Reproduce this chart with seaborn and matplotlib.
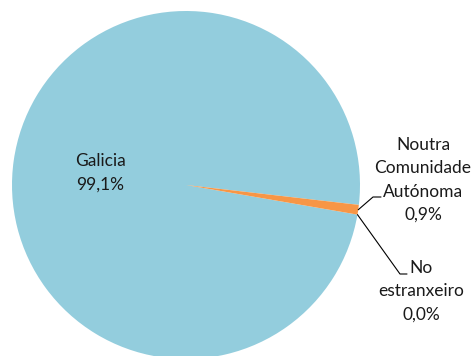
import numpy as np
import matplotlib
matplotlib.use("Agg")
import matplotlib.pyplot as plt
import seaborn as sns

# data
categories = ["Galicia", "Noutra\nComunidade\nAutónoma", "No\nestranxeiro"]
shares = [99.1, 0.9, 0.0]
colors = ["#93CDDD", "#F79646", "#4BACC6"]

sns.set_style("white")
plt.rcParams["font.family"] = ["Lato", "DejaVu Sans"]

fig = plt.figure(figsize=(4.76, 3.56), dpi=100)
ax = fig.add_axes([0, 0, 1, 1])

# pie in pixel-like coords (y up)
cx, cy, r = 186, 171, 174
wedges, _ = ax.pie(
    shares,
    colors=colors,
    startangle=-9.8,
    counterclock=False,
    center=(cx, cy),
    radius=r,
    wedgeprops=dict(linewidth=0),
)
ax.set_xlim(0, 476)
ax.set_ylim(0, 356)
ax.set_aspect("equal")
ax.axis("off")


def fmt(v):
    return f"{v:.1f}%".replace(".", ",")


def edge_point(w, frac=0.5):
    t1, t2 = w.theta1, w.theta2
    a = np.deg2rad(t1 + (t2 - t1) * frac)
    return cx + r * np.cos(a), cy + r * np.sin(a)


fs = 12.5
ls = 1.55

# Galicia label inside
ax.text(100, 356 - 173, f"{categories[0]}\n{fmt(shares[0])}",
        ha="center", va="center", fontsize=fs, linespacing=ls, color="#1a1a1a")

# Noutra Comunidade Autónoma
x0, y0 = edge_point(wedges[1])
ax.plot([x0, 373, 381], [y0, 356 - 197, 356 - 197], color="black", lw=0.8)
ax.text(423, 356 - 180, f"{categories[1]}\n{fmt(shares[1])}",
        ha="center", va="center", fontsize=fs, linespacing=ls, color="#1a1a1a")

# No estranxeiro
x1, y1 = edge_point(wedges[2])
ax.plot([x1, 400, 407], [y1, 356 - 274, 356 - 274], color="black", lw=0.8)
ax.text(421, 356 - 291, f"{categories[2]}\n{fmt(shares[2])}",
        ha="center", va="center", fontsize=fs, linespacing=ls, color="#1a1a1a")

fig.savefig("out.png", dpi=100)
